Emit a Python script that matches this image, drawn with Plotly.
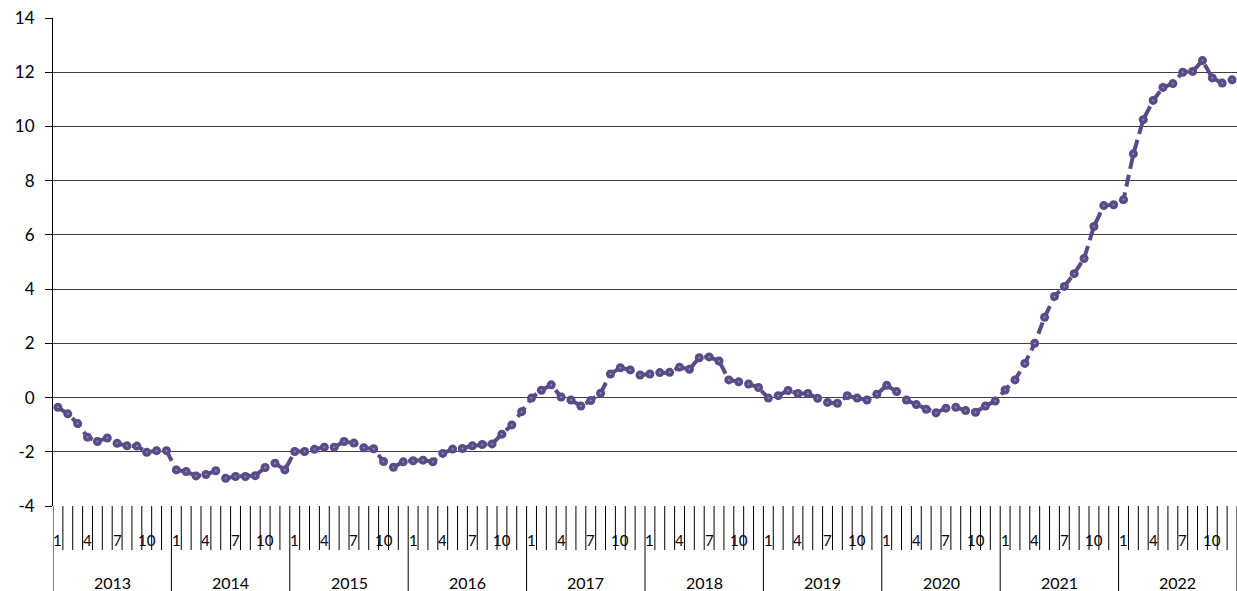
import plotly.graph_objects as go

years = ["2013", "2014", "2015", "2016", "2017", "2018", "2019", "2020", "2021", "2022"]
months = [str(m) for m in range(1, 13)]
shown_months = ["1", "4", "7", "10"]

v2013 = [-0.36, -0.60, -0.96, -1.46, -1.62, -1.49, -1.69, -1.78, -1.79, -2.02, -1.96, -1.96]
v2014 = [-2.67, -2.73, -2.89, -2.84, -2.70, -2.98, -2.91, -2.91, -2.88, -2.58, -2.42, -2.67]
v2015 = [-1.99, -1.99, -1.91, -1.83, -1.83, -1.62, -1.68, -1.85, -1.89, -2.36, -2.57, -2.37]
v2016 = [-2.33, -2.31, -2.37, -2.06, -1.90, -1.88, -1.78, -1.73, -1.71, -1.35, -1.01, -0.52]
v2017 = [-0.02, 0.27, 0.47, 0.02, -0.09, -0.31, -0.11, 0.16, 0.87, 1.10, 1.02, 0.83]
v2018 = [0.87, 0.92, 0.93, 1.12, 1.04, 1.47, 1.50, 1.35, 0.65, 0.58, 0.50, 0.37]
v2019 = [-0.02, 0.07, 0.26, 0.15, 0.15, -0.03, -0.18, -0.21, 0.07, -0.02, -0.09, 0.12]
v2020 = [0.45, 0.22, -0.09, -0.26, -0.43, -0.56, -0.39, -0.36, -0.48, -0.54, -0.31, -0.13]
v2021 = [0.28, 0.65, 1.26, 2.00, 2.96, 3.73, 4.10, 4.57, 5.13, 6.31, 7.08, 7.11]
v2022 = [7.30, 8.99, 10.25, 10.96, 11.44, 11.58, 12.00, 12.03, 12.43, 11.79, 11.60, 11.72]

yticks = [-4, -2, 0, 2, 4, 6, 8, 10, 12, 14]

series = [v2013, v2014, v2015, v2016, v2017, v2018, v2019, v2020, v2021, v2022]
values = [v for yr in series for v in yr]
xs = list(range(len(values)))

LINE_COLOR = "#5B4A86"
FONT = "Lato"

fig = go.Figure()
fig.add_trace(go.Scatter(
    x=xs, y=values, mode="lines+markers",
    line=dict(color=LINE_COLOR, width=4, dash="12px,6px"),
    marker=dict(color=LINE_COLOR, size=9, line=dict(width=0)),
    showlegend=False, hoverinfo="skip", cliponaxis=False,
))
fig.add_trace(go.Scatter(
    x=xs, y=values, mode="markers",
    marker=dict(color="#7f9ad6", size=2, line=dict(width=0)),
    showlegend=False, hoverinfo="skip", cliponaxis=False,
))

plot_h = 591 - 18 - 85
month_tick_bottom = -(550 - 506) / plot_h
year_line_bottom = -(591 - 506) / plot_h
month_label_y = -(540 - 506) / plot_h
year_label_y = -(582 - 506) / plot_h

shapes = []
annotations = []
n = len(values)
for k in range(n + 1):
    is_year = (k % len(months) == 0)
    shapes.append(dict(
        type="line", xref="x", yref="paper",
        x0=k - 0.5, x1=k - 0.5, y0=0,
        y1=year_line_bottom if is_year else month_tick_bottom,
        line=dict(color="black", width=1),
    ))
for yi, yr in enumerate(years):
    for mi, m in enumerate(months):
        if m in shown_months:
            annotations.append(dict(
                x=yi * 12 + mi, y=month_label_y, xref="x", yref="paper",
                text=m, showarrow=False, xanchor="center", yanchor="middle",
                font=dict(family=FONT, size=15, color="black"),
            ))
    annotations.append(dict(
        x=yi * 12 + 5.5, y=year_label_y, xref="x", yref="paper",
        text=yr, showarrow=False, xanchor="center", yanchor="middle",
        font=dict(family=FONT, size=16, color="black"),
    ))

fig.update_layout(
    width=1237, height=591, autosize=False,
    margin=dict(l=53, r=0, t=18, b=85, pad=0),
    paper_bgcolor="white", plot_bgcolor="white",
    font=dict(family=FONT, size=16, color="black"),
    shapes=shapes, annotations=annotations,
    xaxis=dict(
        range=[-0.5, n - 0.5], showticklabels=False, ticks="",
        showgrid=False, zeroline=False, showline=False, automargin=False,
    ),
    yaxis=dict(
        range=[-4, 14], tickvals=yticks, ticktext=[str(t) for t in yticks],
        ticks="outside", ticklen=7, tickcolor="black", tickwidth=1,
        showline=True, linecolor="black", linewidth=1,
        showgrid=True, gridcolor="#404040", gridwidth=1,
        zeroline=False, ticklabelstandoff=7, automargin=False,
        tickfont=dict(family=FONT, size=17, color="black"),
    ),
)

fig.write_html(
    "out.html",
    config={"displayModeBar": False},
    post_script="document.body.style.margin='0';document.body.style.overflow='hidden';",
)
